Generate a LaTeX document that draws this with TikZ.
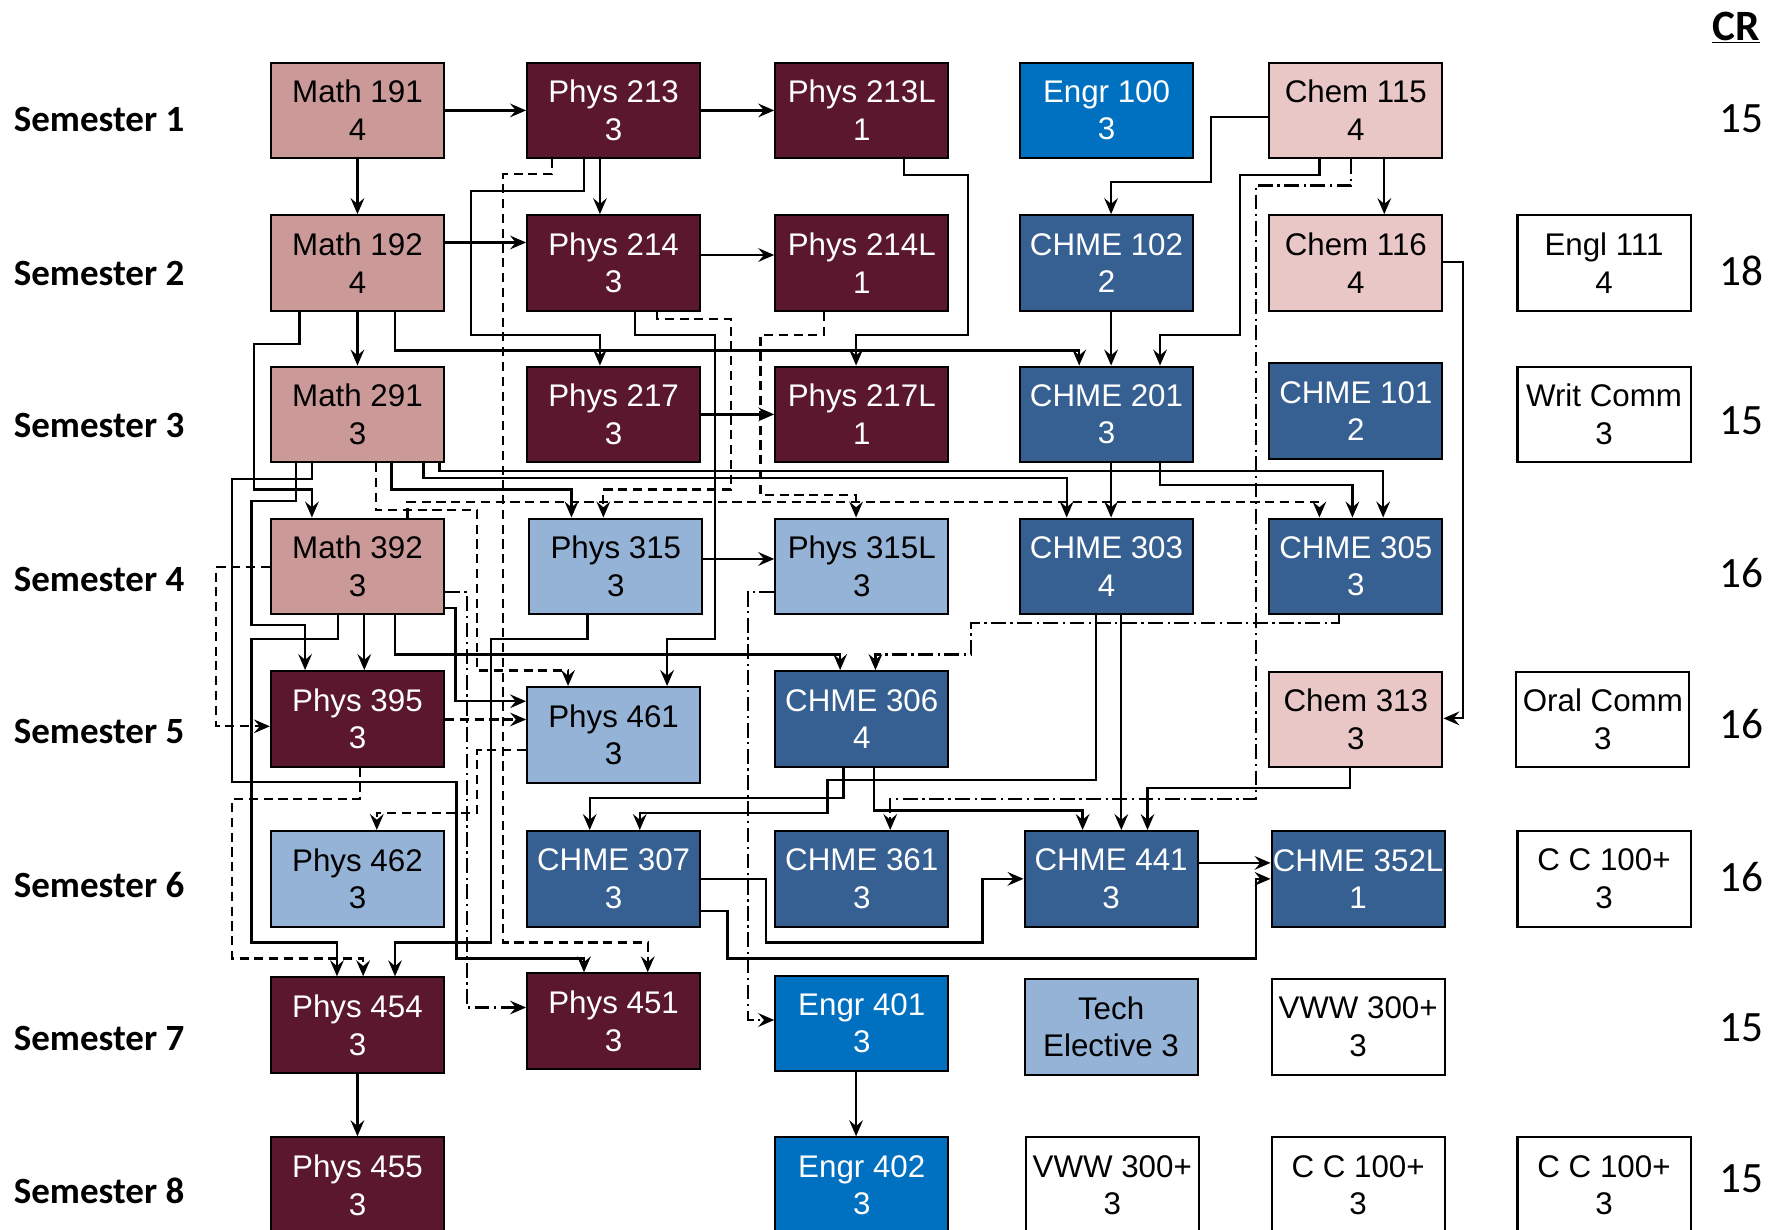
\documentclass[tikz,border=0pt]{standalone}
\usepackage{fontspec}
\setmainfont{Liberation Sans}
\newfontfamily\calfont{Carlito}
\usetikzlibrary{arrows.meta}

\definecolor{mathpink}{RGB}{204,153,153}
\definecolor{chempink}{RGB}{234,199,199}
\definecolor{physmaroon}{RGB}{90,23,46}
\definecolor{physblue}{RGB}{149,179,215}
\definecolor{chmeblue}{RGB}{55,96,146}
\definecolor{engrblue}{RGB}{0,112,192}

\begin{document}
\begin{tikzpicture}[x=1pt,y=-1pt,
        box/.style={draw, line width=1.8pt, minimum width=152pt, minimum height=84pt,
            inner sep=0pt, align=center, font=\fontsize{27.5}{33}\selectfont},
        mathbox/.style={box, fill=mathpink},
        chembox/.style={box, fill=chempink},
        physbox/.style={box, fill=physmaroon, text=white},
        upperbox/.style={box, fill=physblue},
        chmebox/.style={box, fill=chmeblue, text=white},
        engrbox/.style={box, fill=engrblue, text=white},
        genbox/.style={box, fill=white},
        pre/.style={line width=2pt, -{Stealth[length=14pt,width=12pt,inset=5pt]}},
        co/.style={pre, dash pattern=on 8pt off 5pt},
        alt/.style={pre, dash pattern=on 13pt off 4pt on 2pt off 4pt},
        sem/.style={anchor=west, inner sep=0pt, font=\calfont\bfseries\fontsize{32.5}{36}\selectfont},
        cr/.style={inner sep=0pt, font=\calfont\fontsize{38}{42}\selectfont}]
    \useasboundingbox (0,0) rectangle (1568,1080);

    \node[sem] (s1) at (12,105) {Semester 1};
    \node[sem] (s2) at (12,240) {Semester 2};
    \node[sem] (s3) at (12,374) {Semester 3};
    \node[sem] (s4) at (12,509) {Semester 4};
    \node[sem] (s5) at (12,643) {Semester 5};
    \node[sem] (s6) at (12,777) {Semester 6};
    \node[sem] (s7) at (12,912) {Semester 7};
    \node[sem] (s8) at (12,1046) {Semester 8};

    \node[cr, font=\calfont\bfseries\fontsize{38}{42}\selectfont] (crhead) at (1525,24) {\underline{CR}};
    \node[cr] (cr1) at (1530,104) {15};
    \node[cr] (cr2) at (1530,238) {18};
    \node[cr] (cr3) at (1530,370) {15};
    \node[cr] (cr4) at (1530,503) {16};
    \node[cr] (cr5) at (1530,636) {16};
    \node[cr] (cr6) at (1530,770) {16};
    \node[cr] (cr7) at (1530,903) {15};
    \node[cr] (cr8) at (1530,1035) {15};

    \node[mathbox] (m191) at (314,97) {Math 191\\4};
    \node[physbox] (p213) at (539,97) {Phys 213\\3};
    \node[physbox] (p213l) at (757,97) {Phys 213L\\1};
    \node[engrbox] (e100) at (972,97) {Engr 100\\3};
    \node[chembox] (c115) at (1191,97) {Chem 115\\4};

    \node[mathbox] (m192) at (314,231) {Math 192\\4};
    \node[physbox] (p214) at (539,231) {Phys 214\\3};
    \node[physbox] (p214l) at (757,231) {Phys 214L\\1};
    \node[chmebox] (ch102) at (972,231) {CHME 102\\2};
    \node[chembox] (c116) at (1191,231) {Chem 116\\4};
    \node[genbox] (engl) at (1409,231) {Engl 111\\4};

    \node[mathbox] (m291) at (314,364) {Math 291\\3};
    \node[physbox] (p217) at (539,364) {Phys 217\\3};
    \node[physbox] (p217l) at (757,364) {Phys 217L\\1};
    \node[chmebox] (ch201) at (972,364) {CHME 201\\3};
    \node[chmebox] (ch101) at (1191,361) {CHME 101\\2};
    \node[genbox] (writ) at (1409,364) {Writ Comm\\3};

    \node[mathbox] (m392) at (314,497.5) {Math 392\\3};
    \node[upperbox] (p315) at (541,497.5) {Phys 315\\3};
    \node[upperbox] (p315l) at (757,497.5) {Phys 315L\\3};
    \node[chmebox] (ch303) at (972,497.5) {CHME 303\\4};
    \node[chmebox] (ch305) at (1191,497.5) {CHME 305\\3};

    \node[physbox] (p395) at (314,631.5) {Phys 395\\3};
    \node[upperbox] (p461) at (539,645.5) {Phys 461\\3};
    \node[chmebox] (ch306) at (757,631.5) {CHME 306\\4};
    \node[chembox] (c313) at (1191,632) {Chem 313\\3};
    \node[genbox] (oral) at (1408,632) {Oral Comm\\3};

    \node[upperbox] (p462) at (314,772) {Phys 462\\3};
    \node[chmebox] (ch307) at (539,772) {CHME 307\\3};
    \node[chmebox] (ch361) at (757,772) {CHME 361\\3};
    \node[chmebox] (ch441) at (976,772) {CHME 441\\3};
    \node[chmebox] (ch352) at (1193,772) {CHME 352L\\1};
    \node[genbox] (cc6) at (1409,772) {C C 100+\\3};

    \node[physbox] (p454) at (314,900.5) {Phys 454\\3};
    \node[physbox] (p451) at (539,897) {Phys 451\\3};
    \node[engrbox] (e401) at (757,899) {Engr 401\\3};
    \node[upperbox] (tech) at (976,902) {Tech\\Elective 3};
    \node[genbox] (vww7) at (1193,902) {VWW 300+\\3};

    \node[physbox] (p455) at (314,1041) {Phys 455\\3};
    \node[engrbox] (e402) at (757,1041) {Engr 402\\3};
    \node[genbox] (vww8) at (977,1041) {VWW 300+\\3};
    \node[genbox] (cc8a) at (1193,1041) {C C 100+\\3};
    \node[genbox] (cc8b) at (1409,1041) {C C 100+\\3};

    \draw[pre] (m191) -- (p213);
    \draw[pre] (p213) -- (p213l);
    \draw[pre] (m191) -- (m192);
    \draw[pre] (p213.south -| 527,0) -- (p214.north -| 527,0);
    \draw[pre] (m192.east |- 0,213) -- (p214.west |- 0,213);
    \draw[pre] (p214.east |- 0,224) -- (p214l.west |- 0,224);
    \draw[pre] (m192) -- (m291);
    \draw[pre] (p217) -- (p217l);
    \draw[pre] (p315.east |- 0,491) -- (p315l.west |- 0,491);
    \draw[pre] (c115.south -| 1216,0) -- (c116.north -| 1216,0);
    \draw[pre] (c115.west |- 0,103) -- (1064,103) -- (1064,160) -- (976,160) -- (ch102.north -| 976,0);
    \draw[pre] (c115.south -| 1159,0) -- (1159,154) -- (1089,154) -- (1089,294) -- (1019,294) -- (ch201.north -| 1019,0);
    \draw[pre] (ch102.south -| 976,0) -- (ch201.north -| 976,0);
    \draw[pre] (m192.south -| 347,0) -- (347,308) -- (948,308) -- (ch201.north -| 948,0);
    \draw[pre] (p213l.south -| 794,0) -- (794,154) -- (850,154) -- (850,294) -- (752,294) -- (p217l.north -| 752,0);
    \draw[pre] (p213.south -| 513,0) -- (513,168) -- (414,168) -- (414,294) -- (527,294) -- (p217.north -| 527,0);
    \draw[co] (p213.south -| 485,0) -- (485,153) -- (442,153) -- (442,828) -- (569,828) -- (p451.north -| 569,0);
    \draw[pre] (p214.south -| 558,0) -- (558,294) -- (628,294) -- (628,561) -- (586,561) -- (p461.north -| 586,0);
    \draw[co] (p214.south -| 577,0) -- (577,280) -- (642,280) -- (642,430) -- (530,430) -- (p315.north -| 530,0);
    \draw[co] (p214l.south -| 724,0) -- (724,294) -- (668,294) -- (668,435) -- (752,435) -- (p315l.north -| 752,0);
    \draw[pre] (m192.south -| 263,0) -- (263,302) -- (223,302) -- (223,430) -- (274,430) -- (m392.north -| 274,0);
    \draw[pre] (m291.south -| 260,0) -- (260,440) -- (221,440) -- (221,549) -- (268,549) -- (p395.north -| 268,0);
    \draw[pre] (m291.south -| 274,0) -- (274,421) -- (204,421) -- (204,687) -- (401,687) -- (401,842) -- (513,842) -- (p451.north -| 513,0);
    \draw[pre] (m392.south -| 297,0) -- (297,561) -- (221,561) -- (221,828) -- (296,828) -- (p454.north -| 296,0);
    \draw[co] (p395.south -| 316,0) -- (316,702) -- (204,702) -- (204,842) -- (319,842) -- (p454.north -| 319,0);
    \draw[pre] (p315.south -| 516,0) -- (516,561) -- (431,561) -- (431,828) -- (347,828) -- (p454.north -| 347,0);
    \draw[pre] (m392.south -| 320,0) -- (p395.north -| 320,0);
    \draw[co] (m392.west |- 0,498) -- (190,498) -- (190,638) -- (p395.west |- 0,638);
    \draw[pre] (m392.east |- 0,534) -- (400,534) -- (400,616) -- (p461.west |- 0,616);
    \draw[co] (p395.east |- 0,632) -- (p461.west |- 0,632);
    \draw[alt] (m392.east |- 0,520) -- (410,520) -- (410,885) -- (p451.west |- 0,885);
    \draw[co] (m291.south -| 330,0) -- (330,448) -- (419,448) -- (419,589) -- (499,589) -- (p461.north -| 499,0);
    \draw[co] (p461.west |- 0,659) -- (419,659) -- (419,714) -- (331,714) -- (p462.north -| 331,0);
    \draw[pre] (m392.south -| 347,0) -- (347,575) -- (738,575) -- (ch306.north -| 738,0);
    \draw[pre] (m291.south -| 344,0) -- (344,430) -- (502,430) -- (p315.north -| 502,0);
    \draw[pre] (m291.south -| 372,0) -- (372,420) -- (937,420) -- (ch303.north -| 937,0);
    \draw[pre] (m291.south -| 386,0) -- (386,414) -- (1215,414) -- (ch305.north -| 1215,0);
    \draw[co] (m392.north -| 358,0) -- (358,441) -- (1159,441) -- (ch305.north -| 1159,0);
    \draw[pre] (ch201.south -| 976,0) -- (ch303.north -| 976,0);
    \draw[pre] (ch201.south -| 1019,0) -- (1019,426) -- (1188,426) -- (ch305.north -| 1188,0);
    \draw[alt] (ch305.south -| 1176,0) -- (1176,547) -- (853,547) -- (853,575) -- (769,575) -- (ch306.north -| 769,0);
    \draw[pre] (ch303.south -| 963,0) -- (963,685) -- (727,685) -- (727,714) -- (562,714) -- (ch307.north -| 562,0);
    \draw[pre] (ch306.south -| 741,0) -- (741,701) -- (518,701) -- (ch307.north -| 518,0);
    \draw[pre] (ch306.south -| 768,0) -- (768,712) -- (951,712) -- (ch441.north -| 951,0);
    \draw[pre] (ch303.south -| 985,0) -- (ch441.north -| 985,0);
    \draw[pre] (c313.south -| 1186,0) -- (1186,692) -- (1008,692) -- (ch441.north -| 1008,0);
    \draw[alt] (c115.south -| 1187,0) -- (1187,163) -- (1103,163) -- (1103,702) -- (782,702) -- (ch361.north -| 782,0);
    \draw[pre] (ch307.east |- 0,772) -- (673,772) -- (673,828) -- (863,828) -- (863,772) -- (ch441.west |- 0,772);
    \draw[pre] (ch307.east |- 0,800) -- (639,800) -- (639,842) -- (1103,842) -- (1103,772) -- (ch352.west |- 0,772);
    \draw[pre] (ch441.east |- 0,758) -- (ch352.west |- 0,758);
    \draw[alt] (p315l.west |- 0,520) -- (657,520) -- (657,896) -- (e401.west |- 0,896);
    \draw[pre] (e401.south -| 752,0) -- (e402.north -| 752,0);
    \draw[pre] (p454) -- (p455);
    \draw[pre] (c116.east |- 0,230) -- (1285,230) -- (1285,631) -- (c313.east |- 0,631);
\end{tikzpicture}
\end{document}
